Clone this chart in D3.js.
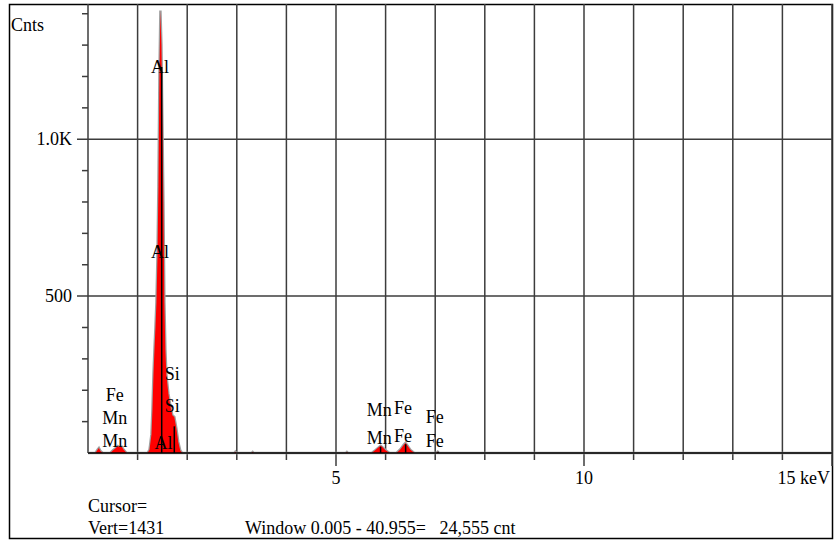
<!DOCTYPE html>
<html>
<head>
<meta charset="utf-8">
<script src="https://cdn.jsdelivr.net/npm/d3@7"></script>
<style>
  body { margin: 0; background: #fff; }
  svg text { font-family: "Liberation Serif", "DejaVu Serif", serif; font-size: 18px; fill: #000; }
</style>
</head>
<body>
<div id="chart"></div>
<script>
// spectrum outline, keV vs counts
var energies = [0.00, 0.15, 0.20, 0.22, 0.25, 0.30, 0.45, 0.50, 0.55, 0.60, 0.64, 0.68, 0.72, 0.78,
  1.20, 1.24, 1.28, 1.30, 1.32, 1.34, 1.36, 1.38, 1.40, 1.42, 1.44, 1.46, 1.48, 1.50, 1.52, 1.54,
  1.56, 1.58, 1.62, 1.66, 1.70, 1.74, 1.78, 1.82, 1.86, 1.90,
  2.95, 2.97, 2.99, 3.30, 3.32, 3.34, 5.20, 5.22, 5.24,
  5.72, 5.80, 5.86, 5.90, 5.94, 6.00, 6.08, 6.22, 6.30, 6.36, 6.40, 6.44, 6.50, 6.58,
  7.02, 7.05, 7.08, 15.0];
var counts = [0, 0, 12, 16, 6, 0, 0, 8, 14, 22, 18, 20, 10, 0,
  0, 10, 60, 140, 250, 330, 400, 480, 620, 850, 1200, 1410, 1300, 1050, 800, 480,
  330, 250, 190, 150, 120, 115, 80, 35, 8, 0,
  0, 4, 0, 0, 3, 0, 0, 3, 0,
  0, 10, 18, 23, 18, 9, 0, 0, 12, 25, 32, 24, 10, 0,
  0, 4, 0, 0];

// KLM marker lines
var markerEnergy = [1.486, 1.740, 5.899, 6.404, 7.058];
var markerCounts = [1230, 85, 20, 28, 4];

// element labels: name, keV at label centre, counts at baseline
var labelNames = ["Al", "Al", "Al", "Si", "Si", "Fe", "Mn", "Mn", "Mn", "Fe", "Mn", "Fe", "Fe", "Fe"];
var labelEnergy = [1.45, 1.45, 1.52, 1.70, 1.70, 0.54, 0.54, 0.54, 5.87, 6.35, 5.87, 6.35, 6.99, 6.99];
var labelCounts = [1210, 620, 13, 233, 131, 167, 93, 20, 117, 124, 28, 36, 95, 20];

var yTicks = [500, 1000];
var xTickLabels = [5, 10];

var W = 835, H = 542;
var x = d3.scaleLinear().domain([0, 15]).range([88, 832]);
var y = d3.scaleLinear().domain([0, 1431]).range([453, 4]);

var svg = d3.select('#chart').append('svg')
  .attr('width', W)
  .attr('height', H);

// outer frame
svg.append('rect')
  .attr('x', 9.5).attr('y', 4.5)
  .attr('width', 823).attr('height', 534)
  .attr('fill', 'none').attr('stroke', '#000').attr('stroke-width', 1.5);

var grid = svg.append('g').attr('stroke', '#3c3c3c').attr('stroke-width', 1.5);

// vertical grid every keV
grid.selectAll('.vg')
  .data(d3.range(1, 16))
  .enter().append('line')
  .attr('x1', function(d) { return x(d); })
  .attr('x2', function(d) { return x(d); })
  .attr('y1', y(1431))
  .attr('y2', function(d) { return d % 5 === 0 ? 466 : 460; });

// left edge of plot
grid.append('line')
  .attr('x1', x(0)).attr('x2', x(0))
  .attr('y1', y(1431)).attr('y2', y(0));

// horizontal grid
grid.selectAll('.hg')
  .data(yTicks)
  .enter().append('line')
  .attr('x1', 77).attr('x2', x(15))
  .attr('y1', function(d) { return y(d); })
  .attr('y2', function(d) { return y(d); });

// minor y ticks
grid.selectAll('.yt')
  .data(d3.range(100, 1500, 100).filter(function(d) { return d % 500 !== 0; }))
  .enter().append('line')
  .attr('x1', 82).attr('x2', x(0))
  .attr('y1', function(d) { return y(d); })
  .attr('y2', function(d) { return y(d); });

// spectrum
var pts = energies.map(function(e, i) { return [e, counts[i]]; });
var area = d3.area()
  .x(function(d) { return x(d[0]); })
  .y0(y(0))
  .y1(function(d) { return y(d[1]); });

svg.append('path')
  .datum(pts)
  .attr('d', area)
  .attr('fill', 'none')
  .attr('stroke', '#a0a0a0')
  .attr('stroke-width', 2.5);

svg.append('path')
  .datum(pts)
  .attr('d', area)
  .attr('fill', '#ff0000');

// x axis line
svg.append('line')
  .attr('x1', x(0)).attr('x2', x(15))
  .attr('y1', y(0)).attr('y2', y(0))
  .attr('stroke', '#000').attr('stroke-width', 1.5);

// markers
svg.selectAll('.mk')
  .data(markerEnergy)
  .enter().append('line')
  .attr('x1', function(d) { return x(d); })
  .attr('x2', function(d) { return x(d); })
  .attr('y1', y(0))
  .attr('y2', function(d, i) { return y(markerCounts[i]); })
  .attr('stroke', '#000').attr('stroke-width', 1.5);

// element labels
svg.selectAll('.lb')
  .data(labelNames)
  .enter().append('text')
  .attr('x', function(d, i) { return x(labelEnergy[i]); })
  .attr('y', function(d, i) { return y(labelCounts[i]); })
  .attr('text-anchor', 'middle')
  .text(function(d) { return d; });

// y labels
svg.selectAll('.yl')
  .data(yTicks)
  .enter().append('text')
  .attr('x', 72)
  .attr('y', function(d) { return y(d) + 6; })
  .attr('text-anchor', 'end')
  .text(function(d) { return d >= 1000 ? (d / 1000).toFixed(1) + 'K' : d; });

svg.append('text').attr('x', 11).attr('y', 31).text('Cnts');

// x labels
svg.selectAll('.xl')
  .data(xTickLabels)
  .enter().append('text')
  .attr('x', function(d) { return x(d); })
  .attr('y', 484)
  .attr('text-anchor', 'middle')
  .text(function(d) { return d; });

svg.append('text').attr('x', 830).attr('y', 484).attr('text-anchor', 'end').text('15 keV');

svg.append('text').attr('x', 88).attr('y', 512).text('Cursor=');
svg.append('text').attr('x', 88).attr('y', 534).text('Vert=1431');
svg.append('text').attr('x', 245).attr('y', 534).attr('xml:space', 'preserve')
  .text('Window 0.005 - 40.955=   24,555 cnt');
</script>
</body>
</html>
